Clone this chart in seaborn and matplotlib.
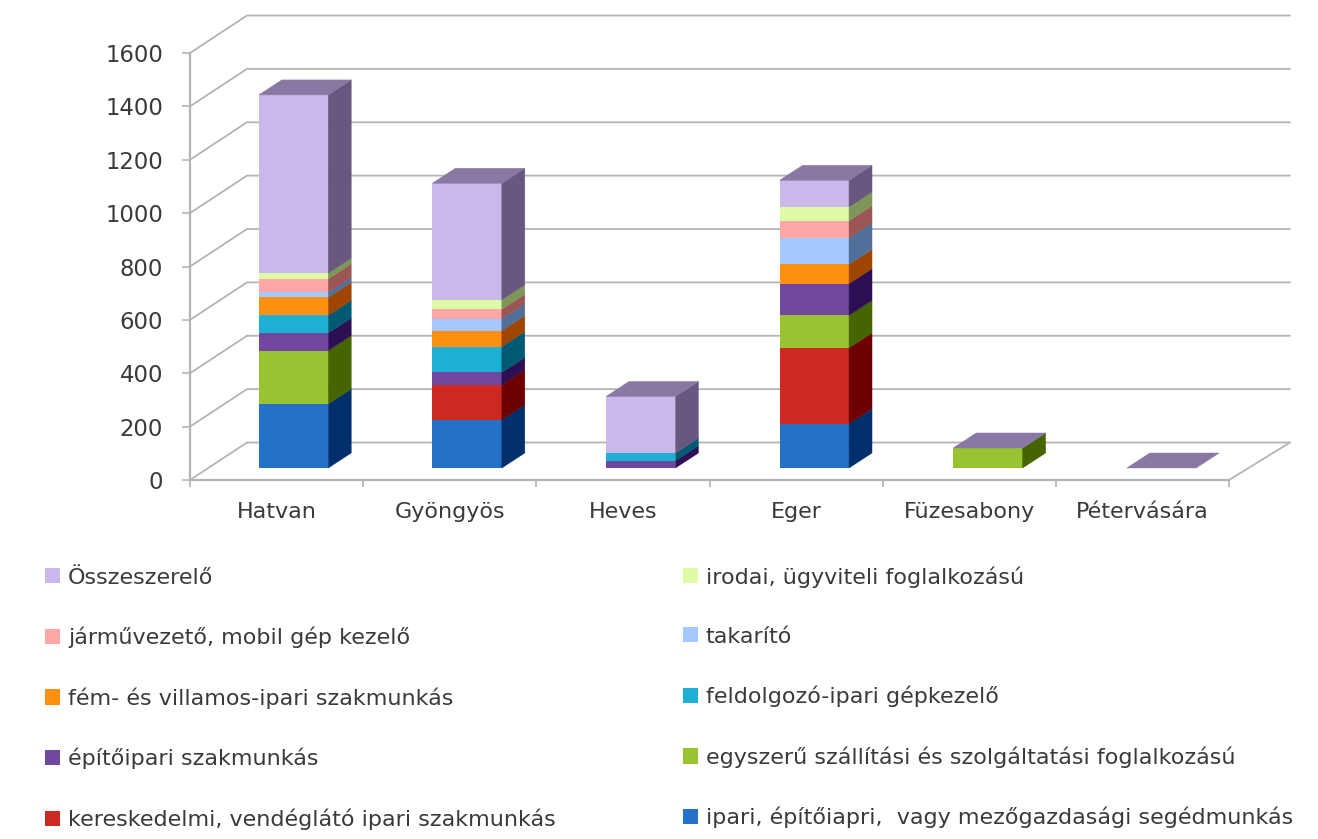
import matplotlib
matplotlib.use("Agg")
import matplotlib.pyplot as plt
from matplotlib.patches import Polygon, Patch
import numpy as np
import seaborn as sns

categories = ["Hatvan", "Gyöngyös", "Heves", "Eger", "Füzesabony", "Pétervására"]
y_ticks = [0, 200, 400, 600, 800, 1000, 1200, 1400, 1600]

# stacked from the bottom up
segedmunkas = [240, 181, 0, 166, 0, 0]
kereskedelmi = [0, 131, 0, 284, 0, 0]
egyszeru = [200, 0, 0, 122, 75, 0]
epitoipari = [66, 46, 27, 119, 0, 0]
feldolgozo = [66, 97, 29, 0, 0, 0]
fem = [67, 60, 0, 72, 0, 0]
takarito = [19, 44, 0, 99, 0, 0]
jarmuvezeto = [50, 36, 0, 64, 0, 0]
irodai = [22, 35, 0, 52, 0, 0]
osszeszerelo = [668, 437, 212, 100, 0, 0]

series_names = [
    "ipari, építőiapri,  vagy mezőgazdasági segédmunkás",
    "kereskedelmi, vendéglátó ipari szakmunkás",
    "egyszerű szállítási és szolgáltatási foglalkozású",
    "építőipari szakmunkás",
    "feldolgozó-ipari gépkezelő",
    "fém- és villamos-ipari szakmunkás",
    "takarító",
    "járművezető, mobil gép kezelő",
    "irodai, ügyviteli foglalkozású",
    "Összeszerelő",
]
series_values = [segedmunkas, kereskedelmi, egyszeru, epitoipari, feldolgozo,
                 fem, takarito, jarmuvezeto, irodai, osszeszerelo]
front_colors = ["#2472C8", "#CC2A20", "#9AC332", "#7148A0", "#1CB0D4",
                "#FF9010", "#A4C8FF", "#FFA6A6", "#DFFBA6", "#CBB8EA"]
side_colors = ["#002F6C", "#6E0000", "#466400", "#2C0F54", "#005A73",
               "#A04500", "#50709A", "#9C5555", "#7E9658", "#685880"]
top_color = "#8A78A4"
grid_color = "#B4B4B4"
text_color = "#3A3A3A"
font_size = 16

W, H = 1318, 839
sns.set_theme(style="white")
plt.rcParams["font.family"] = ["DejaVu Sans"]


def px_axes(fig, left, right, y_bottom, y_top):
    return fig.add_axes([left / W, 1 - y_bottom / H, (right - left) / W, (y_bottom - y_top) / H])


fig = plt.figure(figsize=(W / 100, H / 100), dpi=100, facecolor="white")

# front plane of the chart box: holds the ticks, walls and floor
ax = px_axes(fig, 190, 1229, 480, 53)
ax.set_xlim(-0.5, 5.5)
ax.set_ylim(0, 1600)
ax.patch.set_visible(False)
for s in ["top", "right"]:
    ax.spines[s].set_visible(False)
for s in ["left", "bottom"]:
    ax.spines[s].set_color(grid_color)
    ax.spines[s].set_linewidth(1.6)

ax.set_yticks(y_ticks)
ax.set_xticks(np.arange(-0.5, 6), minor=False, labels=[""] * 7)
ax.set_xticks(np.arange(6), minor=True, labels=categories)
ax.tick_params(axis="x", which="major", length=5, width=1.2, color=grid_color, bottom=True)
ax.tick_params(axis="x", which="minor", length=0, pad=16, labelsize=font_size, labelcolor=text_color)
ax.tick_params(axis="y", length=5.8, width=1.2, color=grid_color, left=True, pad=13.5,
               labelsize=font_size + 0.4, labelcolor=text_color)

# depth of the box in data units
box_dx = 57 / 173.17
box_dx_right = 61 / 173.17
box_dy = 37.5 / (427 / 1600)
for v in y_ticks:
    ax.plot([-0.5, -0.5 + box_dx, 5.5 + box_dx_right], [v, v + box_dy, v + box_dy],
            color=grid_color, lw=1.3, clip_on=False, zorder=1)
ax.plot([5.5, 5.5 + box_dx_right], [0, box_dy], color=grid_color, lw=1.3, clip_on=False, zorder=1)

# bars sit in the middle of the box depth, so they get their own shifted axes
ax_bars = px_axes(fig, 206.7, 1248.3, 468, 41)
ax_bars.patch.set_visible(False)
ax_bars.set_axis_off()

bottom = np.zeros(len(categories))
for values, color in zip(series_values, front_colors):
    sns.barplot(x=categories, y=values, color=color, saturation=1, width=0.4,
                bottom=bottom, errorbar=None, linewidth=0, ax=ax_bars)
    bottom = bottom + np.array(values)
ax_bars.set_xlim(-0.5, 5.5)
ax_bars.set_ylim(0, 1600)

bar_dx = 23 / 173.6
bar_dy = 15 / (427 / 1600)
bars = list(ax_bars.patches)
n_cat = len(categories)
for i, bar in enumerate(bars):
    if bar.get_height() <= 0:
        continue
    x2 = bar.get_x() + bar.get_width()
    y0 = bar.get_y()
    y1 = y0 + bar.get_height()
    side = side_colors[i // n_cat]
    ax_bars.add_patch(Polygon([(x2, y0), (x2 + bar_dx, y0 + bar_dy), (x2 + bar_dx, y1 + bar_dy), (x2, y1)],
                              closed=True, facecolor=side, edgecolor=side, lw=0.3, clip_on=False))
# top cap comes from the last series, it carries the stack total even when its own height is 0
for bar in bars[-n_cat:]:
    x1 = bar.get_x()
    x2 = x1 + bar.get_width()
    y1 = bar.get_y() + bar.get_height()
    ax_bars.add_patch(Polygon([(x1, y1), (x2, y1), (x2 + bar_dx, y1 + bar_dy), (x1 + bar_dx, y1 + bar_dy)],
                              closed=True, facecolor=top_color, edgecolor=top_color, lw=0.3, clip_on=False))

# legend reads across the rows from the top series down
rev_names = series_names[::-1]
rev_colors = front_colors[::-1]
order = list(range(0, 10, 2)) + list(range(1, 10, 2))
handles = [Patch(facecolor=rev_colors[i], edgecolor="none", label=rev_names[i]) for i in order]
fig.legend(handles=handles, ncol=2, frameon=False, fontsize=font_size, labelcolor=text_color,
           loc="upper left", bbox_to_anchor=(45 / W, 1 - 566 / H), borderaxespad=0, borderpad=0,
           handlelength=0.68, handleheight=0.68, handletextpad=0.36,
           labelspacing=1.76, columnspacing=5.7)

fig.savefig("out.png", dpi=100, facecolor="white")
